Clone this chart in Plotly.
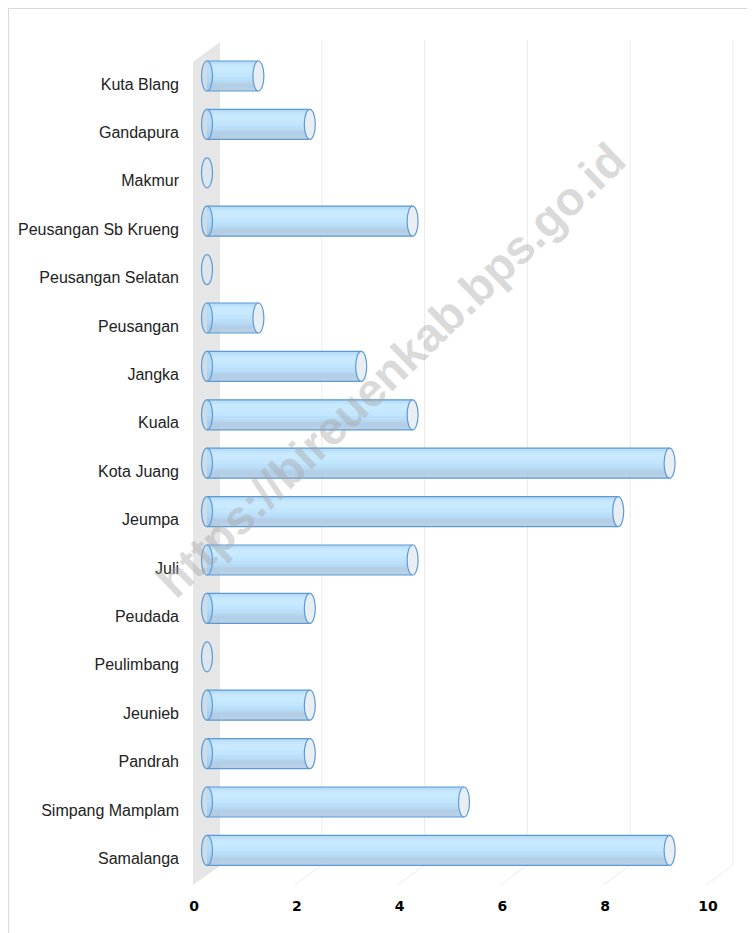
import plotly.graph_objects as go

categories = ["Kuta Blang", "Gandapura", "Makmur", "Peusangan Sb Krueng", "Peusangan Selatan",
              "Peusangan", "Jangka", "Kuala", "Kota Juang", "Jeumpa", "Juli", "Peudada",
              "Peulimbang", "Jeunieb", "Pandrah", "Simpang Mamplam", "Samalanga"]
values = [1, 2, 0, 4, 0, 1, 3, 4, 9, 8, 4, 2, 0, 2, 2, 5, 9]
x_ticks = [0, 2, 4, 6, 8, 10]
watermark = "https://bireuenkab.bps.go.id"

OFF = 8  # page body margin
W, H = 755 - OFF, 933 - OFF
ML, MR, MT, MB = 172, 2, 32, 45
PX_PER_UNIT_X = 51.4
PX_PER_CAT = 48.4
X0_PX = 207 - OFF          # pixel of value 0 (bar axis)
Y0_PX = 76 - OFF           # pixel of first category centre

xr = [-(X0_PX - ML) / PX_PER_UNIT_X, (W - MR - X0_PX) / PX_PER_UNIT_X]
yr = [(H - MB - Y0_PX) / PX_PER_CAT, -(Y0_PX - MT) / PX_PER_CAT]

def ux(px):
    return px / PX_PER_UNIT_X

def uy(px):
    return px / PX_PER_CAT

def px_x(p):  # reference page pixel -> x units
    return ux(p - OFF - X0_PX)

def px_y(p):
    return uy(p - OFF - Y0_PX)

idx = list(range(len(categories)))
BW = 0.62
EDGE = "#5b9bd5"

fig = go.Figure()
# cylinder body layers (top-to-bottom shading)
layers = [
    (1.00, 0.00, "rgba(168,196,222,0.80)"),
    (0.88, 0.00, "rgba(178,207,232,0.85)"),
    (0.74, 0.00, "rgba(182,216,242,0.90)"),
    (0.62, 0.04, "rgba(188,224,249,0.92)"),
    (0.44, 0.10, "rgba(194,230,253,0.95)"),
    (0.22, 0.16, "rgba(200,233,254,0.95)"),
]
for frac, top_off, col in layers:
    fig.add_trace(go.Bar(y=idx, x=values, orientation="h", width=BW * frac,
                         offset=-BW / 2 + BW * top_off,
                         marker=dict(color=col, line=dict(width=0)),
                         hoverinfo="skip"))

shapes = []
# back-wall gridlines + floor lines
gy_top = yr[1]
gy_back = px_y(865)
gy_front = px_y(885)
dx_back = ux(12)
dx_front = ux(-15)
for t in x_ticks[1:]:
    shapes.append(dict(type="line", xref="x", yref="y", x0=t + dx_back, x1=t + dx_back,
                       y0=gy_top, y1=gy_back, line=dict(color="#ebebeb", width=1), layer="below"))
    shapes.append(dict(type="line", xref="x", yref="y", x0=t + dx_back, x1=t + dx_front,
                       y0=gy_back, y1=gy_front, line=dict(color="#ebebeb", width=1), layer="below"))
# left wall
wl, wr = px_x(193), px_x(220)
shapes.append(dict(type="path", xref="x", yref="y",
                   path=f"M {wl},{px_y(62)} L {wr},{px_y(42)} L {wr},{px_y(866)} "
                        f"L {wl},{px_y(885)} Z",
                   fillcolor="#e6e6e6", line=dict(width=0), layer="below"))

ew = ux(5.5)
eh = BW / 2
for i, v in zip(idx, values):
    if v > 0:
        shapes.append(dict(type="line", xref="x", yref="y", x0=0, x1=v, y0=i - eh, y1=i - eh,
                           line=dict(color=EDGE, width=1.2)))
        shapes.append(dict(type="line", xref="x", yref="y", x0=0, x1=v, y0=i + eh, y1=i + eh,
                           line=dict(color=EDGE, width=1.2)))
        shapes.append(dict(type="circle", xref="x", yref="y", x0=-ew, x1=ew, y0=i - eh, y1=i + eh,
                           line=dict(color=EDGE, width=1.2), fillcolor="rgba(160,200,235,0.35)"))
        shapes.append(dict(type="circle", xref="x", yref="y", x0=v - ew, x1=v + ew, y0=i - eh, y1=i + eh,
                           line=dict(color=EDGE, width=1.2), fillcolor="#e8eef4"))
    else:
        shapes.append(dict(type="circle", xref="x", yref="y", x0=-ew, x1=ew, y0=i - eh, y1=i + eh,
                           line=dict(color=EDGE, width=1.2), fillcolor="#dfe5ec"))

# outer border (top and left visible)
pw = W - ML - MR
ph = H - MT - MB
shapes.append(dict(type="rect", xref="paper", yref="paper",
                   x0=(0.5 - ML) / pw, x1=(W + 5 - ML) / pw,
                   y0=-(MB + 5) / ph, y1=(H - MB - 0.5) / ph,
                   line=dict(color="#d9d9d9", width=1), fillcolor="rgba(0,0,0,0)", layer="below"))

fig.update_layout(
    width=W, height=H, margin=dict(l=ML, r=MR, t=MT, b=MB),
    paper_bgcolor="white", plot_bgcolor="rgba(0,0,0,0)",
    barmode="overlay", showlegend=False, shapes=shapes,
    xaxis=dict(range=xr, tickvals=x_ticks, ticktext=[str(t) for t in x_ticks],
               showgrid=False, zeroline=False, showline=False, ticks="",
               tickfont=dict(family="DejaVu Sans", size=14, color="black", weight="bold"),
               ticklabelshift=-13, ticklabelstandoff=8, fixedrange=True),
    yaxis=dict(range=yr, tickvals=idx, ticktext=categories, showgrid=False, zeroline=False,
               showline=False, ticks="", ticklabelshift=-8, ticklabelstandoff=0,
               tickfont=dict(family="Liberation Sans", size=16, color="#222222")),
    annotations=[dict(text=watermark, xref="paper", yref="paper",
                      x=(390 - OFF - ML) / pw, y=((H - MB) - (370 - OFF)) / ph, showarrow=False,
                      textangle=-44,
                      font=dict(family="Liberation Sans", size=47, color="rgba(165,165,165,0.42)",
                                weight="bold"))],
)

fig.write_html("out.html")
